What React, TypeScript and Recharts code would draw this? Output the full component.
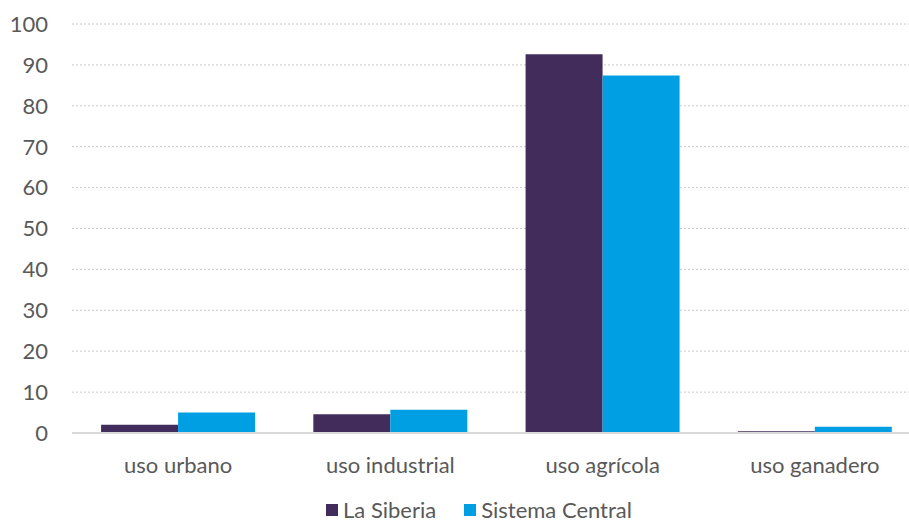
import { Bar, BarChart, CartesianGrid, Legend, XAxis, YAxis } from "recharts";

const categories = ["uso urbano", "uso industrial", "uso agrícola", "uso ganadero"];
const laSiberia = [2.0, 4.6, 92.6, 0.4];
const sistemaCentral = [5.0, 5.7, 87.4, 1.5];
const yTicks = [0, 10, 20, 30, 40, 50, 60, 70, 80, 90, 100];

const data = categories.map((name, i) => ({
    name,
    siberia: laSiberia[i],
    central: sistemaCentral[i],
}));

const series = [
    { key: "siberia", label: "La Siberia", color: "#422c5b" },
    { key: "central", label: "Sistema Central", color: "#009fe3" },
];

const FONT = "Lato, 'Open Sans', sans-serif";
const TEXT = "#595959";

function LegendContent() {
    return (
        <div
            style={{
                display: "flex",
                justifyContent: "center",
                gap: 28,
                fontFamily: FONT,
                fontSize: 22,
                lineHeight: "24px",
                color: TEXT,
                paddingLeft: 37,
                paddingTop: 4,
            }}
        >
            {series.map((s) => (
                <div key={s.key} style={{ display: "flex", alignItems: "center" }}>
                    <span style={{ width: 12, height: 12, background: s.color, marginRight: 5, display: "inline-block" }} />
                    <span>{s.label}</span>
                </div>
            ))}
        </div>
    );
}

export default function App() {
    return (
        <div style={{ position: "fixed", left: 0, top: 0, width: 909, height: 526, overflow: "hidden", background: "#fff" }}>
            <BarChart
                width={921}
                height={526}
                data={data}
                margin={{ top: 24, right: 0, left: 0, bottom: 0 }}
                barCategoryGap="13.7%"
                barGap={0}
            >
                <CartesianGrid vertical={false} stroke="#c8c8c8" strokeDasharray="2 2" />
                <XAxis
                    dataKey="name"
                    height={61}
                    tickLine={false}
                    axisLine={{ stroke: "#d9d9d9", strokeWidth: 2 }}
                    tick={{ fill: TEXT, fontSize: 22, fontFamily: FONT }}
                    tickMargin={18}
                    interval={0}
                />
                <YAxis
                    width={72}
                    domain={[0, 100]}
                    ticks={yTicks}
                    tickLine={false}
                    axisLine={false}
                    tickSize={0}
                    tickMargin={24}
                    tick={{ fill: TEXT, fontSize: 22, fontFamily: FONT }}
                />
                <Legend verticalAlign="bottom" height={32} content={<LegendContent />} />
                {series.map((s) => (
                    <Bar key={s.key} dataKey={s.key} name={s.label} fill={s.color} isAnimationActive={false} />
                ))}
            </BarChart>
        </div>
    );
}
